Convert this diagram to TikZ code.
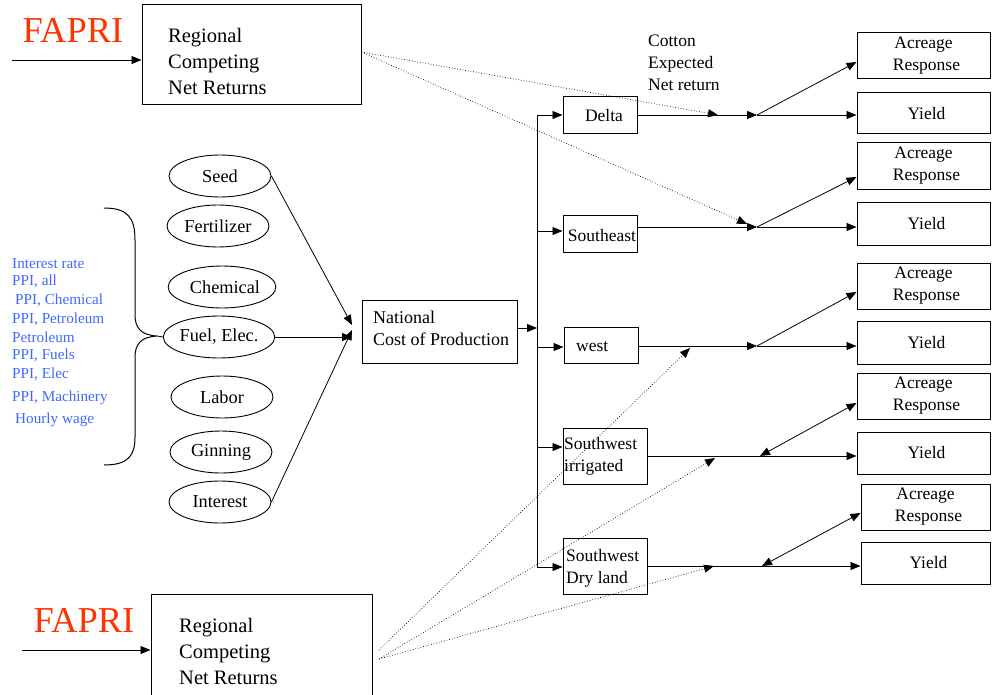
\documentclass[tikz,border=0pt]{standalone}
\usepackage{fontspec}
\setmainfont{Liberation Serif}
\usetikzlibrary{arrows.meta,shapes.geometric,calc}
\definecolor{fapri}{RGB}{255,51,0}
\definecolor{ppicol}{RGB}{64,104,255}
\begin{document}
\begin{tikzpicture}[x=1pt,y=-1pt,
  box/.style={draw,line width=1pt,inner sep=0pt},
  oval/.style={draw,ellipse,line width=0.9pt,minimum width=102pt,minimum height=42pt,inner sep=0pt,font=\fontsize{18.3}{21}\selectfont},
  txt/.style={inner sep=0pt,align=left,anchor=west,font=\fontsize{17.5}{22}\selectfont},
  big/.style={inner sep=0pt,align=left,anchor=west,font=\fontsize{20.5}{26}\selectfont},
  rtxt/.style={font=\fontsize{17.5}{22}\selectfont,align=center},
  fap/.style={inner sep=0pt,text=fapri,font=\fontsize{36.5}{36}\selectfont},
  ppitxt/.style={inner sep=0pt,anchor=west,text=ppicol,font=\fontsize{15.2}{17}\selectfont},
  arr/.style={line width=0.8pt,-{Triangle[length=10pt,width=8pt]}},
  darr/.style={line width=0.8pt,{Triangle[length=10pt,width=8pt]}-{Triangle[length=10pt,width=8pt]}},
  ln/.style={line width=0.8pt},
  dot/.style={dotted,line width=0.7pt,-{Triangle[length=10pt,width=8pt]}}
]
\useasboundingbox (0,0) rectangle (992,695);

% top FAPRI
\node[fap] (fapri1) at (73,30) {FAPRI};
\node[box,minimum width=219pt,minimum height=100pt] (rcnr1) at (251.5,55) {};
\node[big] (rcnr1t) at (168,61) {Regional\\Competing\\Net Returns};
\coordinate (in1) at (12,60);
\draw[arr] (in1) -- (in1 -| rcnr1.west);

% bottom FAPRI
\node[fap] (fapri2) at (84,620) {FAPRI};
\node[box,minimum width=221pt,minimum height=118pt] (rcnr2) at (261.5,653) {};
\node[big] (rcnr2t) at (179,651) {Regional\\Competing\\Net Returns};
\coordinate (in2) at (22,650);
\draw[arr] (in2) -- (in2 -| rcnr2.west);

% blue list
\node[ppitxt] (p1) at (12,264) {Interest rate};
\node[ppitxt] (p2) at (12,281) {PPI, all};
\node[ppitxt] (p3) at (15,300) {PPI, Chemical};
\node[ppitxt] (p4) at (12,319) {PPI, Petroleum};
\node[ppitxt] (p5) at (12,337) {Petroleum};
\node[ppitxt] (p6) at (12,355) {PPI, Fuels};
\node[ppitxt] (p7) at (12,374) {PPI, Elec};
\node[ppitxt] (p8) at (12,398) {PPI, Machinery};
\node[ppitxt] (p9) at (15,420) {Hourly wage};

% brace
\coordinate (btip) at (157,336);
\draw[line width=1pt] (104,208) .. controls (128,208) and (135,218) .. (135,240) -- (135,315)
  .. controls (135,328) and (141,335) .. (btip)
  .. controls (141,337) and (135,344) .. (135,357) -- (135,437)
  .. controls (135,456) and (128,465) .. (104,465);

% ellipses
\node[oval] (seed) at (220,176) {Seed};
\node[oval] (fert) at (218,226) {Fertilizer};
\node[oval] (chem) at (222,287) {\hspace*{6pt}Chemical};
\node[oval] (fuel) at (219,337) {Fuel, Elec.};
\node[oval] (labor) at (222,397) {Labor};
\node[oval] (gin) at (221,452) {Ginning};
\node[oval] (inter) at (220,502) {Interest};
\draw[ln] (btip) -- (fuel.west);

% national cost
\node[box,minimum width=155pt,minimum height=63pt] (nat) at (439.5,331.5) {};
\node[txt,font=\fontsize{18}{22}\selectfont] (natt) at (373,328) {National\\Cost of Production};
\coordinate (n1) at (352,325);
\coordinate (n2) at (352,337);
\coordinate (n3) at (352,330);
\draw[arr] (seed.east) -- (n1);
\draw[arr] (fuel.east) -- (n2);
\draw[arr] (inter.east) -- (n3);

% bus
\coordinate (bus) at (537,328);
\coordinate (b1) at (537,115);
\coordinate (b2) at (537,231);
\coordinate (b3) at (537,347);
\coordinate (b4) at (537,447);
\coordinate (b5) at (537,567);
\draw[arr] (bus -| nat.east) -- (bus);
\draw[ln] (b1) -- (b5);

% region boxes
\node[box,rtxt,minimum width=74pt,minimum height=37pt] (delta) at (600,115.5) {\hspace*{8pt}Delta};
\node[box,rtxt,minimum width=74pt,minimum height=37pt] (se) at (600,233.5) {};
\node[rtxt,inner sep=0pt] (set) at (602,236) {Southeast};
\node[box,minimum width=74pt,minimum height=36pt] (west) at (601,345) {};
\node[txt] (westt) at (576,347) {west};
\node[box,minimum width=84pt,minimum height=56pt] (swi) at (605,456) {};
\node[txt] (swit) at (564,456) {Southwest\\irrigated};
\node[box,minimum width=84pt,minimum height=56pt] (swd) at (605,566) {};
\node[txt] (swdt) at (566,568) {Southwest\\Dry land};

\draw[arr] (b1) -- (b1 -| delta.west);
\draw[arr] (b2) -- (b2 -| se.west);
\draw[arr] (b3) -- (b3 -| west.west);
\draw[arr] (b4) -- (b4 -| swi.west);
\draw[arr] (b5) -- (b5 -| swd.west);

% cotton text
\node[txt] (cotton) at (648,63) {Cotton\\Expected\\Net return};

% output boxes
\node[box,rtxt,minimum width=133pt,minimum height=46pt] (acr1) at (923.5,56) {Acreage\\\hspace*{6pt}Response};
\node[box,rtxt,minimum width=133pt,minimum height=41pt] (yld1) at (923.5,113.5) {\hspace*{6pt}Yield};
\node[box,rtxt,minimum width=133pt,minimum height=46pt] (acr2) at (923.5,166) {Acreage\\\hspace*{6pt}Response};
\node[box,rtxt,minimum width=133pt,minimum height=43pt] (yld2) at (923.5,223.5) {\hspace*{6pt}Yield};
\node[box,rtxt,minimum width=133pt,minimum height=46pt] (acr3) at (923.5,286) {Acreage\\\hspace*{6pt}Response};
\node[box,rtxt,minimum width=133pt,minimum height=43pt] (yld3) at (923.5,342.5) {\hspace*{6pt}Yield};
\node[box,rtxt,minimum width=133pt,minimum height=46pt] (acr4) at (923.5,396) {Acreage\\\hspace*{6pt}Response};
\node[box,rtxt,minimum width=133pt,minimum height=42pt] (yld4) at (923.5,453) {\hspace*{6pt}Yield};
\node[box,rtxt,minimum width=129pt,minimum height=46pt] (acr5) at (925.5,507) {Acreage\\\hspace*{6pt}Response};
\node[box,rtxt,minimum width=129pt,minimum height=42pt] (yld5) at (925.5,563) {\hspace*{6pt}Yield};

% junctions
\coordinate (j1) at (757,115);
\coordinate (j2) at (757,227);
\coordinate (j3) at (757,346);
\coordinate (j4) at (760,456);
\coordinate (j5) at (762,566);

\draw[arr] (j1 -| delta.east) -- (j1);
\draw[arr] (j1) -- (j1 -| yld1.west);
\draw[arr] (j1) -- ([yshift=-6pt]acr1.west);

\draw[arr] (j2 -| se.east) -- (j2);
\draw[arr] (j2) -- (j2 -| yld2.west);
\draw[arr] (j2) -- ([yshift=-11pt]acr2.west);

\draw[arr] (j3 -| west.east) -- (j3);
\draw[arr] (j3) -- (j3 -| yld3.west);
\draw[arr] (j3) -- ([yshift=-6pt]acr3.west);

\draw[ln] (j4 -| swi.east) -- (j4);
\draw[arr] (j4) -- (j4 -| yld4.west);
\draw[darr] (j4) -- ([yshift=-7pt]acr4.west);

\draw[ln] (j5 -| swd.east) -- (j5);
\draw[arr] (j5) -- (j5 -| yld5.west);
\draw[darr] (j5) -- ([yshift=-6pt]acr5.west);

% dotted links
\coordinate (d1) at (718,115);
\coordinate (d2) at (747,224);
\coordinate (d3) at (690,348);
\coordinate (d4) at (715,458);
\coordinate (d5) at (714,566);
\coordinate (s1) at (379,650);
\coordinate (s2) at (379,659);
\draw[dot] ([yshift=3pt]rcnr1.east) -- (d1);
\draw[dot] ([yshift=3pt]rcnr1.east) -- (d2);
\draw[dot] (s1) -- (d3);
\draw[dot] (s2) -- (d4);
\draw[dot] (s2) -- (d5);
\end{tikzpicture}
\end{document}
